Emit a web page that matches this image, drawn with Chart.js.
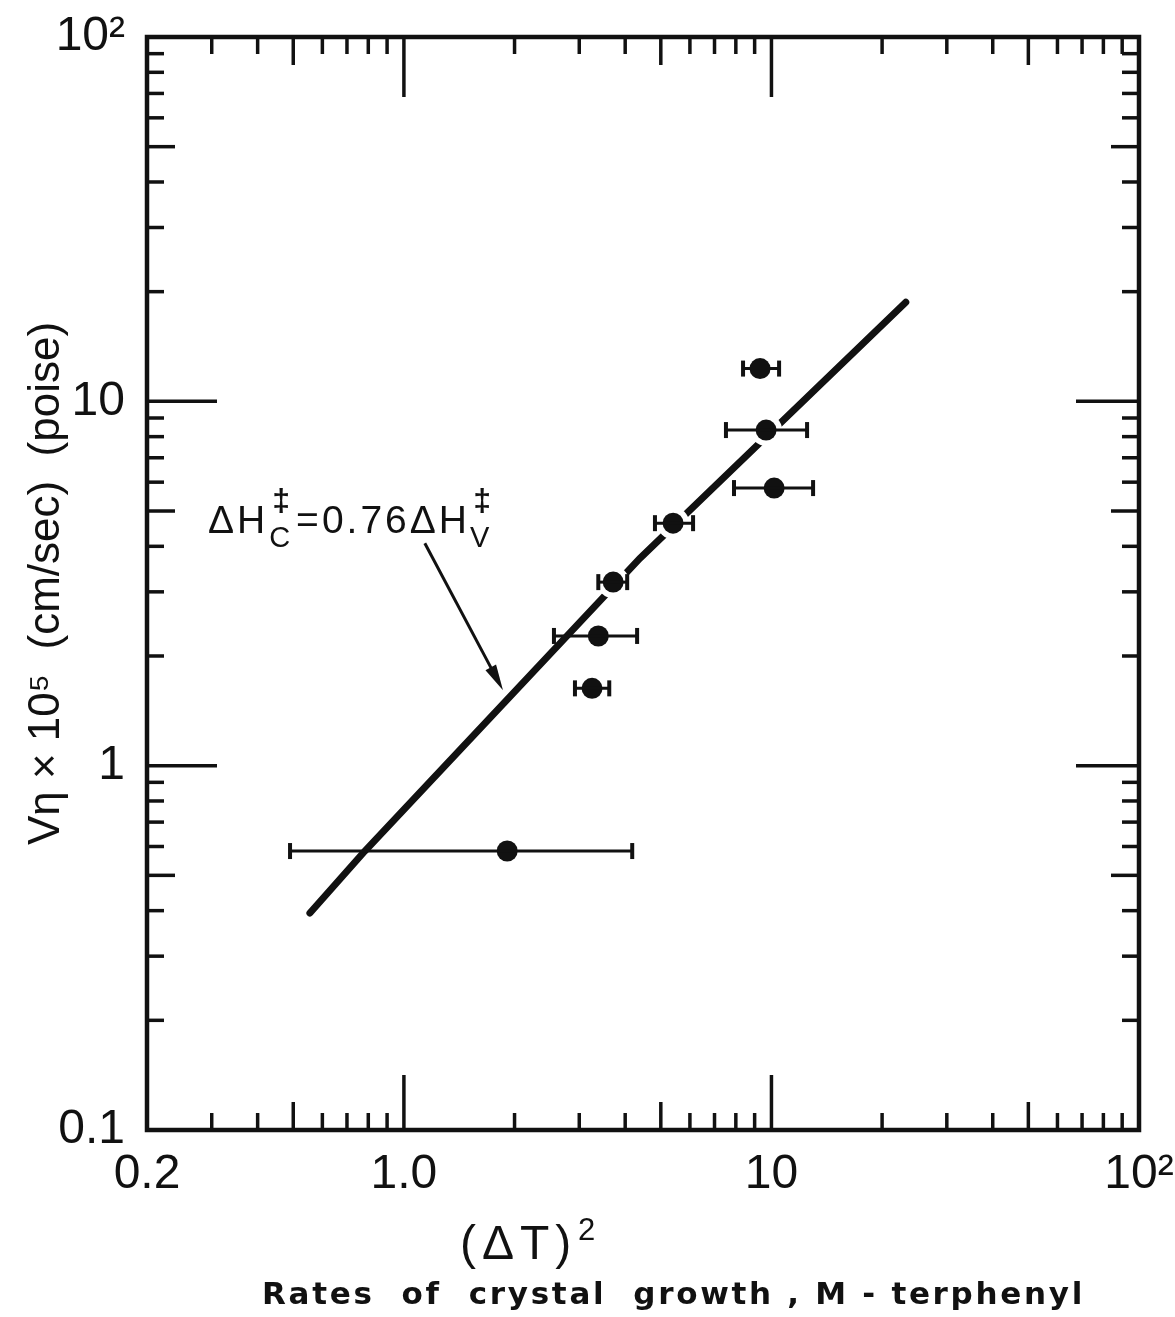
<!DOCTYPE html>
<html>
<head>
<meta charset="utf-8">
<script src="https://cdn.jsdelivr.net/npm/chart.js@4.4.1/dist/chart.umd.min.js"></script>
<style>
  html, body { margin: 0; padding: 0; background: #fff; }
</style>
</head>
<body>
<canvas id="growthChart" width="1175" height="1317"></canvas>
<script>
// (ΔT)^2 and Vη x 10^5, with the horizontal error bars
const deltaT2 = [9.31, 9.67, 10.17, 5.40, 3.71, 3.38, 3.25, 1.91];
const rateVisc = [12.3, 8.34, 5.78, 4.63, 3.19, 2.27, 1.63, 0.583];
const errLow = [8.37, 7.52, 7.91, 4.82, 3.38, 2.56, 2.92, 0.49];
const errHigh = [10.49, 12.5, 12.98, 6.12, 4.05, 4.31, 3.62, 4.18];

// hand drawn line  ΔH‡c = 0.76 ΔH‡v
const fitX = [0.555, 0.783, 4.39, 23.2];
const fitY = [0.394, 0.583, 3.71, 18.7];

// axes
const xTickValues = [0.2, 1, 10, 100];
const xTickLabels = ["0.2", "1.0", "10", "10²"];
const yTickValues = [0.1, 1, 10, 100];
const yTickLabels = ["0.1", "1", "10", "10²"];
const xMinorTicks = [0.3, 0.4, 0.5, 0.6, 0.7, 0.8, 0.9, 2, 3, 4, 5, 6, 7, 8, 9, 20, 30, 40, 50, 60, 70, 80, 90];
const yMinorTicks = [0.2, 0.3, 0.4, 0.5, 0.6, 0.7, 0.8, 0.9, 2, 3, 4, 5, 6, 7, 8, 9, 20, 30, 40, 50, 60, 70, 80, 90];
const majorTicks = [1, 10];
const midTicks = [0.5, 5, 50];

// label + arrow, in data units
const notePos = { x: 0.293, y: 4.35 };
const arrowFrom = { x: 1.14, y: 4.08 };
const arrowTo = { x: 1.86, y: 1.61 };

const ink = "#111";
const FONT = '"Liberation Sans", Arial, sans-serif';
const WIDE = '"DejaVu Sans", sans-serif';

function line(ctx, x1, y1, x2, y2) {
  ctx.beginPath();
  ctx.moveTo(x1, y1);
  ctx.lineTo(x2, y2);
  ctx.stroke();
}

// ticks pointing inward on all four sides + frame
const frameTicks = {
  id: "frameTicks",
  beforeDatasetsDraw(chart) {
    const { ctx, chartArea: a, scales: { x, y } } = chart;
    const lenFor = (v, major) => majorTicks.includes(v) ? major : (midTicks.includes(v) ? 28 : 17);
    ctx.save();
    ctx.strokeStyle = ink;
    ctx.lineWidth = 3.5;
    xMinorTicks.concat(majorTicks).forEach(v => {
      const px = x.getPixelForValue(v);
      line(ctx, px, a.bottom, px, a.bottom - lenFor(v, 55));
      line(ctx, px, a.top, px, a.top + lenFor(v, 60));
    });
    yMinorTicks.concat(majorTicks).forEach(v => {
      const py = y.getPixelForValue(v);
      line(ctx, a.left, py, a.left + lenFor(v, 70), py);
      line(ctx, a.right, py, a.right - lenFor(v, 63), py);
    });
    ctx.lineWidth = 4.5;
    ctx.strokeRect(a.left, a.top, a.right - a.left, a.bottom - a.top);
    ctx.restore();
  }
};

// horizontal error bars
const errorBars = {
  id: "errorBars",
  afterDatasetsDraw(chart) {
    const { ctx, scales: { x, y } } = chart;
    ctx.save();
    ctx.strokeStyle = ink;
    deltaT2.forEach((_, i) => {
      const py = y.getPixelForValue(rateVisc[i]);
      const x1 = x.getPixelForValue(errLow[i]);
      const x2 = x.getPixelForValue(errHigh[i]);
      ctx.lineWidth = 3;
      line(ctx, x1, py, x2, py);
      ctx.lineWidth = 4;
      line(ctx, x1, py - 8, x1, py + 8);
      line(ctx, x2, py - 8, x2, py + 8);
    });
    ctx.restore();
  }
};

// annotation, x title, caption
const textLayer = {
  id: "textLayer",
  afterDraw(chart) {
    const { ctx, scales: { x, y } } = chart;
    ctx.save();
    ctx.fillStyle = ink;
    ctx.strokeStyle = ink;
    ctx.textAlign = "left";
    ctx.textBaseline = "alphabetic";

    // ΔH‡C = 0.76 ΔH‡V
    let cx = x.getPixelForValue(notePos.x);
    const by = y.getPixelForValue(notePos.y);
    const put = (t, font, px, dy) => {
      ctx.font = font;
      ctx.fillText(t, px, by + dy);
      return ctx.measureText(t).width;
    };
    ctx.letterSpacing = "3px";
    cx += put("ΔH", "39px " + FONT, cx, 0);
    let w = put("C", "29px " + FONT, cx + 1, 14);
    put("‡", "bold 32px " + FONT, cx + w / 2 - 8, -22);
    cx += w + 4;
    cx += put("=0.76ΔH", "39px " + FONT, cx, 0);
    w = put("V", "29px " + FONT, cx, 14);
    put("‡", "bold 32px " + FONT, cx + w / 2 - 8, -22);

    // arrow
    const ax1 = x.getPixelForValue(arrowFrom.x), ay1 = y.getPixelForValue(arrowFrom.y);
    const ax2 = x.getPixelForValue(arrowTo.x), ay2 = y.getPixelForValue(arrowTo.y);
    const ang = Math.atan2(ay2 - ay1, ax2 - ax1);
    ctx.lineWidth = 3;
    line(ctx, ax1, ay1, ax2 - 20 * Math.cos(ang), ay2 - 20 * Math.sin(ang));
    ctx.beginPath();
    ctx.moveTo(ax2, ay2);
    ctx.lineTo(ax2 - 26 * Math.cos(ang) + 6 * Math.sin(ang), ay2 - 26 * Math.sin(ang) - 6 * Math.cos(ang));
    ctx.lineTo(ax2 - 26 * Math.cos(ang) - 6 * Math.sin(ang), ay2 - 26 * Math.sin(ang) + 6 * Math.cos(ang));
    ctx.closePath();
    ctx.fill();

    // (ΔT)²
    ctx.letterSpacing = "6px";
    ctx.font = "48px " + FONT;
    ctx.fillText("(ΔT)", 460, 1259);
    ctx.letterSpacing = "0px";
    ctx.font = "31px " + FONT;
    ctx.fillText("2", 578, 1240);

    // caption, stretched to the width it has in the original
    const caption = "Rates  of  crystal  growth , M - terphenyl";
    ctx.font = "bold 31px " + WIDE;
    ctx.letterSpacing = "0px";
    const natural = ctx.measureText(caption).width;
    const spacing = (823 - natural) / caption.length;
    ctx.letterSpacing = spacing + "px";
    ctx.fillText(caption, 262, 1304);
    ctx.restore();
  }
};

const pts = deltaT2.map((v, i) => ({ x: v, y: rateVisc[i] }));

new Chart(document.getElementById("growthChart"), {
  type: "scatter",
  data: {
    datasets: [
      {
        label: "data",
        data: pts,
        pointRadius: 10.5,
        pointHoverRadius: 10.5,
        backgroundColor: ink,
        borderWidth: 0,
        order: 1
      },
      {
        label: "halo",
        data: pts,
        pointRadius: 16,
        pointHoverRadius: 16,
        backgroundColor: "#fff",
        borderWidth: 0,
        order: 2
      },
      {
        type: "line",
        label: "fit",
        data: fitX.map((v, i) => ({ x: v, y: fitY[i] })),
        borderColor: ink,
        borderWidth: 7,
        borderCapStyle: "round",
        pointRadius: 0,
        tension: 0,
        order: 3
      }
    ]
  },
  options: {
    responsive: false,
    animation: false,
    devicePixelRatio: 1,
    layout: { padding: { top: 37, right: 36, left: 0, bottom: 0 } },
    plugins: { legend: { display: false }, tooltip: { enabled: false } },
    scales: {
      x: {
        type: "logarithmic",
        min: 0.2,
        max: 100,
        grid: { display: false },
        border: { display: false },
        afterBuildTicks: s => { s.ticks = xTickValues.map(v => ({ value: v })); },
        afterFit: s => { s.height = 187; s.paddingLeft = 0; s.paddingRight = 0; },
        ticks: {
          color: ink,
          padding: 8,
          maxRotation: 0,
          autoSkip: false,
          font: { family: FONT, size: 48 },
          callback: (v, i) => xTickLabels[i]
        }
      },
      y: {
        type: "logarithmic",
        min: 0.1,
        max: 100,
        grid: { display: false },
        border: { display: false },
        afterBuildTicks: s => { s.ticks = yTickValues.map(v => ({ value: v })); },
        afterFit: s => { s.width = 147; s.paddingTop = 0; s.paddingBottom = 0; },
        ticks: {
          color: ink,
          padding: 14,
          autoSkip: false,
          font: { family: FONT, size: 48 },
          callback: (v, i) => yTickLabels[i]
        },
        title: {
          display: true,
          text: "Vη × 10⁵  (cm/sec)  (poise)",
          color: ink,
          font: { family: FONT, size: 44 },
          padding: { top: 20, bottom: 0 }
        }
      }
    }
  },
  plugins: [frameTicks, errorBars, textLayer]
});
</script>
</body>
</html>
